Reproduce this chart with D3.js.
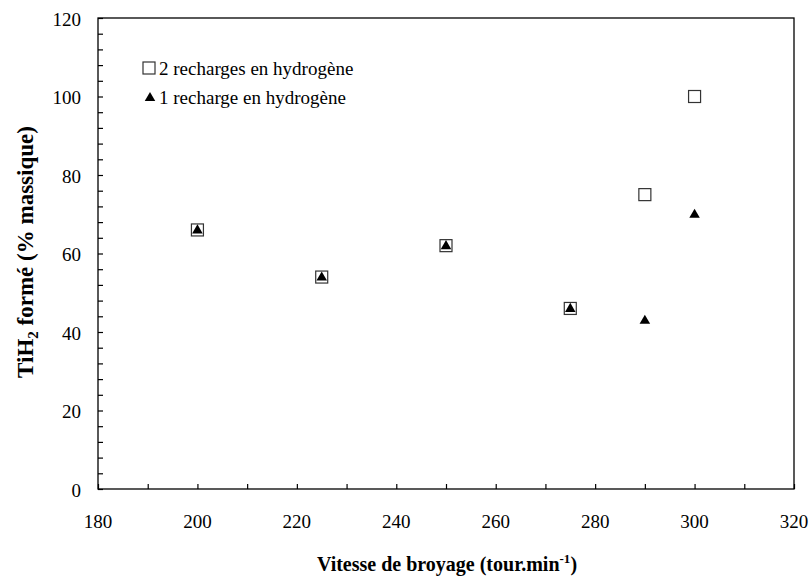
<!DOCTYPE html>
<html><head><meta charset="utf-8">
<script src="https://cdn.jsdelivr.net/npm/d3@7"></script>
<style>body{margin:0;background:#fff}svg{display:block}</style>
</head><body><svg id="c" width="811" height="579" font-family="Liberation Serif"></svg>
<script>
const speeds = [200, 225, 250, 275, 290, 300];
const twoRecharges = [66, 54, 62, 46, 75, 100];
const oneRecharge = [66, 54, 62, 46, 43, 70];
const xTicks = [180, 200, 220, 240, 260, 280, 300, 320];
const yTicks = [0, 20, 40, 60, 80, 100, 120];
const legendLabels = ["2 recharges en hydrogène", "1 recharge en hydrogène"];

const FF = "Liberation Serif";
const svg = d3.select("#c");
const m = {l: 98, r: 794, t: 18, b: 489};
const x = d3.scaleLinear().domain([180, 320]).range([m.l, m.r]);
const y = d3.scaleLinear().domain([0, 120]).range([m.b, m.t]);

// frame
svg.append("rect").attr("x", m.l).attr("y", m.t).attr("width", m.r - m.l).attr("height", m.b - m.t)
  .attr("fill", "none").attr("stroke", "#000").attr("stroke-width", 1.3);

// x axis ticks (inward)
const xa = svg.append("g").attr("transform", `translate(0,${m.b})`)
  .call(d3.axisBottom(x).tickValues(d3.range(180, 321, 10)).tickSize(-5).tickFormat(""));
xa.select(".domain").remove();
xa.selectAll("text").remove();
xa.selectAll("line").attr("stroke", "#000").attr("stroke-width", 1.2);
svg.append("g").selectAll("text").data(xTicks).join("text")
  .attr("font-family", FF)
  .attr("x", d => x(d)).attr("y", 528).attr("text-anchor", "middle").attr("font-size", 19).text(d => d);

// y axis ticks (inward)
const ya = svg.append("g").attr("transform", `translate(${m.l},0)`)
  .call(d3.axisLeft(y).tickValues(d3.range(0, 121, 4)).tickSize(-5).tickFormat(""));
ya.select(".domain").remove();
ya.selectAll("text").remove();
ya.selectAll("line").attr("stroke", "#000").attr("stroke-width", 1.2);
svg.append("g").selectAll("text").data(yTicks).join("text")
  .attr("font-family", FF)
  .attr("x", 81).attr("y", d => y(d) + 7.5).attr("text-anchor", "end").attr("font-size", 19).text(d => d);

// axis titles
const xt = svg.append("text").attr("font-family", FF).attr("x", 447).attr("y", 571).attr("text-anchor", "middle")
  .attr("font-size", 20).attr("font-weight", "bold");
xt.append("tspan").text("Vitesse de broyage (tour.min");
xt.append("tspan").attr("dy", -8).attr("font-size", 13).text("-1");
xt.append("tspan").attr("dy", 8).text(")");

const yt = svg.append("text").attr("font-family", FF).attr("transform", "translate(33,252) rotate(-90)").attr("text-anchor", "middle")
  .attr("font-size", 23).attr("font-weight", "bold");
yt.append("tspan").text("TiH");
yt.append("tspan").attr("dy", 5).attr("font-size", 15).text("2");
yt.append("tspan").attr("dy", -5).text(" formé (% massique)");

// markers
const sq = 12;
svg.append("g").selectAll("rect").data(speeds.map((s, i) => [s, twoRecharges[i]])).join("rect")
  .attr("x", d => x(d[0]) - sq / 2).attr("y", d => y(d[1]) - sq / 2)
  .attr("width", sq).attr("height", sq).attr("fill", "none").attr("stroke", "#333").attr("stroke-width", 1.2);
const tri = d3.symbol().type(d3.symbolTriangle).size(48);
svg.append("g").selectAll("path").data(speeds.map((s, i) => [s, oneRecharge[i]])).join("path")
  .attr("d", tri).attr("transform", d => `translate(${x(d[0])},${y(d[1]) + 0.5})`).attr("fill", "#000");

// legend
const lg = svg.append("g");
lg.append("rect").attr("x", 143).attr("y", 62).attr("width", 12).attr("height", 12)
  .attr("fill", "none").attr("stroke", "#333").attr("stroke-width", 1.2);
lg.append("path").attr("d", tri).attr("transform", "translate(150,98)").attr("fill", "#000");
lg.append("text").attr("font-family", FF).attr("x", 159).attr("y", 75).attr("font-size", 19).text(legendLabels[0]);
lg.append("text").attr("font-family", FF).attr("x", 159).attr("y", 104).attr("font-size", 19).text(legendLabels[1]);
</script></body></html>
